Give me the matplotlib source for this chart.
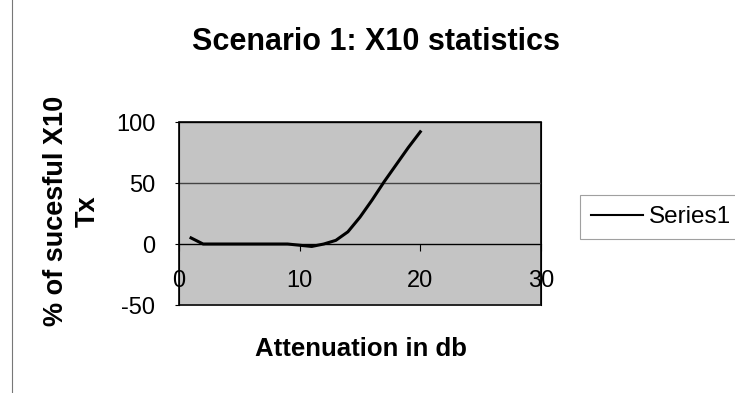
import matplotlib
matplotlib.use('Agg')
import matplotlib.pyplot as plt
from matplotlib.transforms import Bbox
from matplotlib.lines import Line2D

# data
attenuation = [1, 2, 3, 4, 5, 6, 7, 8, 9, 10, 11, 12, 13, 14, 15, 16, 17, 18, 19, 20]
success = [5, 0, 0, 0, 0, 0, 0, 0, 0, -1, -2, 0, 3, 10, 22, 36, 51, 65, 79, 92]
x_ticks = [0, 10, 20, 30]
y_ticks = [-50, 0, 50, 100]
y_tick_labels = ['-50', '0', '50', '100']

plt.rcParams['font.family'] = ['Liberation Sans', 'DejaVu Sans']

fig = plt.figure(figsize=(7.35, 3.93), dpi=100)
ax = fig.add_axes([0.2435, 0.2239, 0.4925, 0.4656])
ax.set_facecolor('#c4c4c4')

ax.plot(attenuation, success, color='black', linewidth=2.2, label='Series1')

ax.set_xlim(0, 30)
ax.set_ylim(-50, 100)
ax.set_xticks(x_ticks)
ax.set_yticks(y_ticks)
ax.set_yticklabels(y_tick_labels)
ax.yaxis.grid(True, color='#444444', linewidth=1)
ax.set_axisbelow(True)

ax.spines['bottom'].set_position(('data', 0))
for s in ['top', 'right', 'left']:
    ax.spines[s].set_color('black')
ax.patch.set_edgecolor('black')
ax.patch.set_linewidth(1.2)

ax.tick_params(axis='x', direction='out', length=5, pad=14, labelsize=17)
ax.tick_params(axis='y', direction='out', length=3, pad=14, labelsize=17)

fig.text(376 / 735, 1 - 42 / 393, 'Scenario 1: X10 statistics', fontsize=22,
         fontweight='bold', ha='center', va='center')

fig.text(361 / 735, 1 - 349 / 393, 'Attenuation in db', fontsize=18.5,
         fontweight='bold', ha='center', va='center')

# y label is cut at the top in the original
ylab = fig.text(72 / 735, 1 - 211 / 393, '% of sucesful X10\nTx', fontsize=19.5,
                fontweight='bold', ha='center', va='center', rotation=90,
                linespacing=1.25)
ylab.set_clip_box(Bbox([[0, 0], [735, 393 - 97]]))
ylab.set_clip_on(True)

leg = fig.legend(loc='center left', bbox_to_anchor=(580 / 735, 1 - 217 / 393),
                 fontsize=17.5, frameon=True, fancybox=False, handlelength=2.15,
                 borderpad=0.45, handletextpad=0.25, borderaxespad=0)
leg.get_frame().set_edgecolor('#888888')
leg.get_frame().set_linewidth(0.8)
for h in leg.legend_handles:
    h.set_linewidth(1.5)

fig.add_artist(Line2D([12 / 735, 12 / 735], [0, 1], color='#777777', linewidth=0.8))

fig.savefig('out.png', dpi=100)
